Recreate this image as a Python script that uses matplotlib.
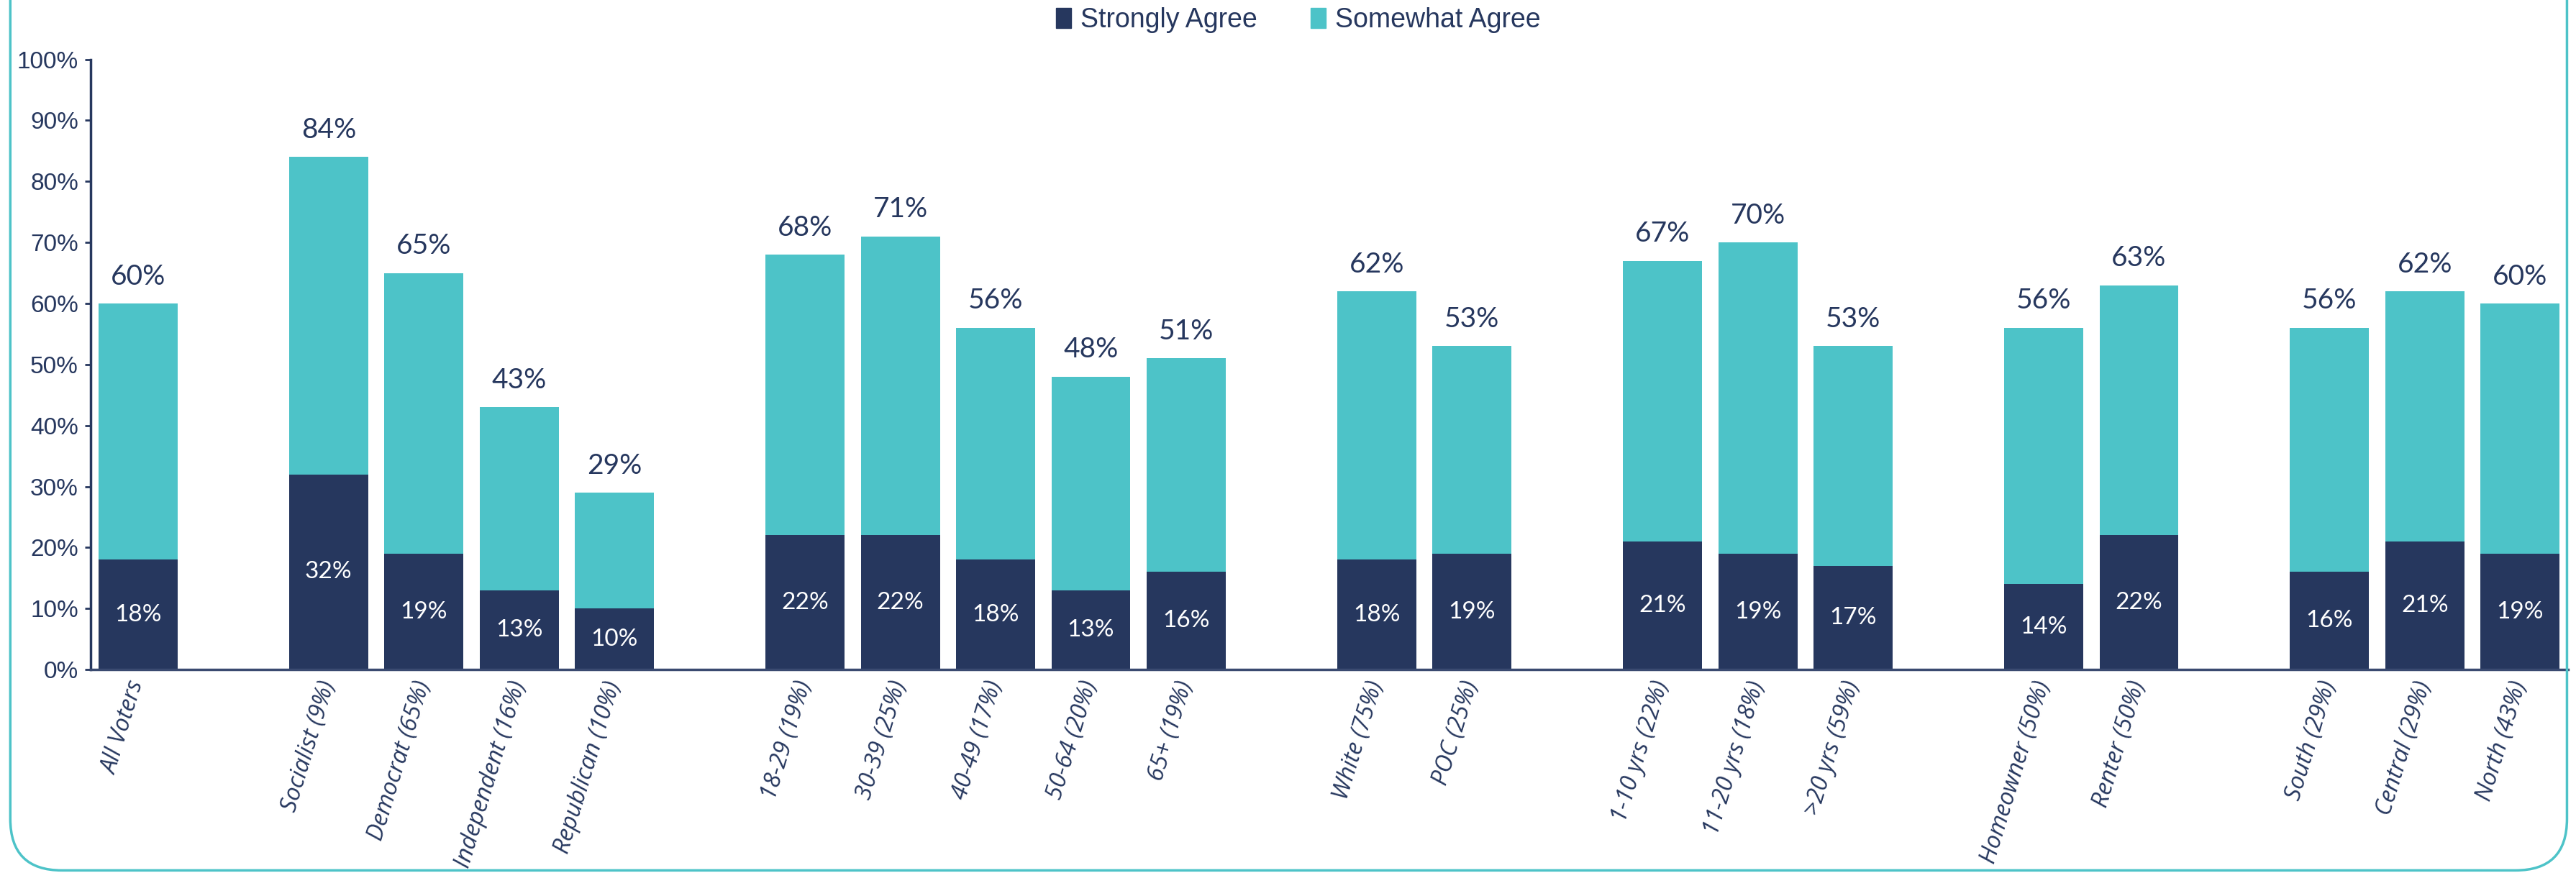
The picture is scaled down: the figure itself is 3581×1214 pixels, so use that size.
import numpy as np
import matplotlib
matplotlib.use("Agg")
import matplotlib.pyplot as plt
from matplotlib.patches import FancyBboxPatch, Patch

# survey breakdown: share agreeing, by subgroup
categories = [
    "All Voters",
    "Socialist (9%)", "Democrat (65%)", "Independent (16%)", "Republican (10%)",
    "18-29 (19%)", "30-39 (25%)", "40-49 (17%)", "50-64 (20%)", "65+ (19%)",
    "White (75%)", "POC (25%)",
    "1-10 yrs (22%)", "11-20 yrs (18%)", ">20 yrs (59%)",
    "Homeowner (50%)", "Renter (50%)",
    "South (29%)", "Central (29%)", "North (43%)",
]
group_sizes = [1, 4, 5, 2, 3, 2, 3]
strongly = [18, 32, 19, 13, 10, 22, 22, 18, 13, 16, 18, 19, 21, 19, 17, 14, 22, 16, 21, 19]
total = [60, 84, 65, 43, 29, 68, 71, 56, 48, 51, 62, 53, 67, 70, 53, 56, 63, 56, 62, 60]
yticks = [0, 10, 20, 30, 40, 50, 60, 70, 80, 90, 100]

NAVY = "#26375e"
TEAL = "#4dc3c8"

strongly = np.array(strongly, dtype=float)
total = np.array(total, dtype=float)
somewhat = total - strongly

# one empty slot between groups
pos = []
x = 0
for n in group_sizes:
    pos.extend(range(x, x + n))
    x += n + 1
pos = np.array(pos)

fig = plt.figure(figsize=(35.81, 12.14), dpi=100)
ax = fig.add_axes([0.0351, 0.233, 0.9617, 0.699])

w = 0.83
ax.bar(pos, strongly, width=w, color=NAVY, zorder=2)
ax.bar(pos, somewhat, width=w, bottom=strongly, color=TEAL, zorder=2)

for xi, s, t in zip(pos, strongly, total):
    ax.text(xi, s / 2, f"{s:.0f}%", ha="center", va="center", color="white",
            fontsize=24, family="Lato")
    ax.annotate(f"{t:.0f}%", (xi, t), xytext=(0, 14), textcoords="offset points",
                ha="center", va="bottom", color=NAVY, fontsize=28, family="Lato")

ax.set_xlim(-0.5, pos[-1] + 0.5)
ax.set_ylim(0, 100)
ax.set_yticks(yticks)
ax.set_yticklabels([f"{v}%" for v in yticks], family="Liberation Sans",
                   fontsize=24, color=NAVY)
ax.tick_params(axis="y", direction="out", length=6, width=2, color=NAVY, pad=6)

ax.set_xticks(pos)
ax.set_xticklabels(categories, rotation=73, ha="right", va="center",
                   rotation_mode="anchor", fontsize=23.5, family="Open Sans",
                   style="italic", color=NAVY)
ax.tick_params(axis="x", length=0, pad=12)

for side in ("top", "right"):
    ax.spines[side].set_visible(False)
ax.spines["left"].set_color(NAVY)
ax.spines["left"].set_linewidth(2.5)
ax.spines["bottom"].set_color("#3a4a70")
ax.spines["bottom"].set_linewidth(2.5)

handles = [Patch(color=NAVY, label="Strongly Agree"),
           Patch(color=TEAL, label="Somewhat Agree")]
fig.legend(handles=handles, loc="center", bbox_to_anchor=(0.504, 0.977), ncol=2,
           frameon=False, prop={"family": "Liberation Sans", "size": 27},
           labelcolor=NAVY, handlelength=0.55, handleheight=0.8,
           handletextpad=0.35, columnspacing=2.0)

# rounded frame around the whole chart (open at the top)
frame = FancyBboxPatch((0.004, 0.003), 0.9925, 1.2,
                       boxstyle="round,pad=0,rounding_size=0.02",
                       transform=fig.transFigure, facecolor="none",
                       edgecolor=TEAL, linewidth=2.5, mutation_aspect=2.95)
fig.patches.append(frame)

fig.savefig("out.png", dpi=100)
